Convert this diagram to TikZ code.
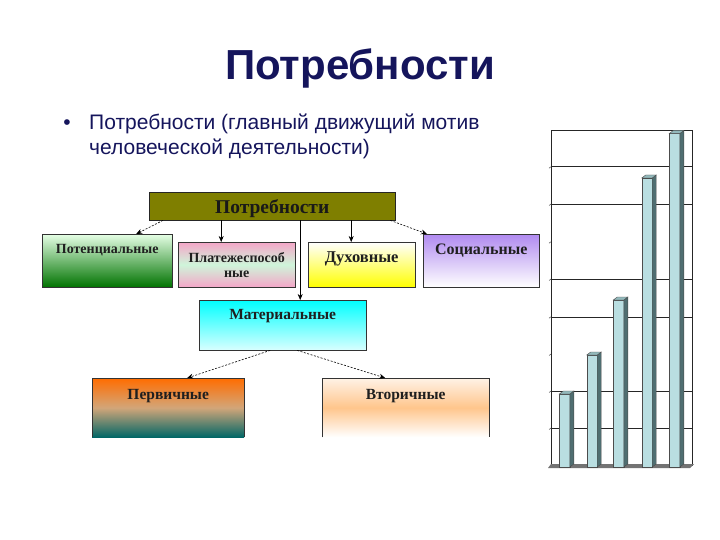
\documentclass[tikz,border=0pt]{standalone}
\usepackage{fontspec}
\setmainfont{Liberation Serif}
\newfontfamily\slidesans{Liberation Sans}
\usepackage{tikz}
\usetikzlibrary{shapes,arrows,positioning,calc,arrows.meta}
\definecolor{neednavy}{HTML}{15155C}
\definecolor{needolive}{HTML}{7F7F00}
\definecolor{needpink}{HTML}{F4A6C8}
\definecolor{needmint}{HTML}{CFF5DA}
\definecolor{needviolet}{HTML}{B08AF0}
\definecolor{barfront}{HTML}{B9DEE1}
\definecolor{barside}{HTML}{4F6E71}
\definecolor{bartop}{HTML}{93B9BC}
\newcommand{\boxfont}[1]{\fontsize{#1}{15}\selectfont\bfseries}
\tikzset{
  need top/.style={rectangle, draw=black!85, fill=needolive, anchor=north west, inner sep=0pt, font=\boxfont{19.5}, text=black!90},
  need box/.style={rectangle, draw=black!80, anchor=north west, inner sep=0pt, align=center, font=\boxfont{14}, text=black!88},
  need arrow/.style={-{Stealth[length=6pt,width=5pt]}, semithick},
  need dashed/.style={need arrow, dash pattern=on 2pt off 1.5pt}
}

\begin{document}
\begin{tikzpicture}[x=1pt, y=-1pt]
    \useasboundingbox (0,0) rectangle (720,540);

    % Title and bullet
    \node [anchor=base, font=\slidesans\bfseries\fontsize{42}{48}\selectfont, text=neednavy] (Title) at (360,80) {Потребности};
    \node [anchor=base, font=\slidesans\fontsize{21}{25}\selectfont, text=neednavy] (Dot) at (67,129.5) {•};
    \node [anchor=base west, align=left, inner sep=0pt, font=\slidesans\fontsize{21}{24.8}\selectfont, text=neednavy] (Lead) at (89,154.3) {Потребности (главный движущий мотив\\человеческой деятельности)};

    % Nodes for the first level
    \node [need top, minimum width=246pt, text height=21.5pt, text depth=6.5pt] (Need) at (149,192) {Потребности};
    \node [need box, minimum width=130pt, text height=19.5pt, text depth=33.5pt, top color=green!10!white, bottom color=green!45!black] (Pot) at (42,234) {Потенциальные};
    \node [need box, minimum width=117pt, minimum height=45pt, top color=needpink, bottom color=needpink, middle color=needmint] (Plat) at (178,242) {Платежеспособ\\ные};
    \node [need box, font=\boxfont{16.5}, minimum width=107pt, text height=20.5pt, text depth=24.5pt, top color=white, bottom color=yellow] (Dukh) at (308,242) {Духовные};
    \node [need box, font=\boxfont{16}, minimum width=116pt, text height=20.5pt, text depth=32.5pt, top color=needviolet, bottom color=white] (Soc) at (423,234) {Социальные};

    % Nodes for the second level
    \node [need box, font=\boxfont{15.5}, minimum width=167pt, text height=19.5pt, text depth=30.5pt, top color=cyan, bottom color=cyan!15!white] (Mat) at (199,300) {Материальные};
    \node [need box, font=\boxfont{15.5}, draw=none, minimum width=152pt, text height=21.5pt, text depth=37.5pt, top color=orange!85!red, bottom color=teal!80!black, middle color=brown!70!white] (Perv) at (92,378) {Первичные};
    \node [need box, font=\boxfont{15.5}, draw=none, minimum width=167pt, text height=21.5pt, text depth=37.5pt, top color=orange!10!white, bottom color=white, middle color=orange!45!white] (Vtor) at (322,378) {Вторичные};
    \draw [black!80] (Perv.south west) |- (Perv.north east) -- (Perv.south east);
    \draw [black!80] (Vtor.south west) |- (Vtor.north east) -- (Vtor.south east);

    % Connectors
    \draw [need dashed] ([xshift=14pt]Need.south west) -- ([xshift=29pt]Pot.north);
    \draw [need arrow] ([xshift=-15.5pt]Plat.north |- Need.south) -- ([xshift=-15.5pt]Plat.north);
    \draw [need arrow] ([xshift=17.5pt]Mat.north |- Need.south) -- ([xshift=17.5pt]Mat.north);
    \draw [need arrow] ([xshift=-10.5pt]Dukh.north |- Need.south) -- ([xshift=-10.5pt]Dukh.north);
    \draw [need dashed] ([xshift=-5pt]Need.south east) -- ([xshift=4pt]Soc.north west);
    \draw [need dashed] ([xshift=-12.5pt]Mat.south) -- ([xshift=19pt]Perv.north);
    \draw [need dashed] ([xshift=14.5pt]Mat.south) -- ([xshift=-20.5pt]Vtor.north);

    % Chart on the right
    \foreach \gy in {166.7, 204, 279, 316.7, 391, 428}
      \draw [black!85] (551,\gy) -- (692,\gy);
    \foreach \gy in {166.7, 204, 241.7, 279, 316.7, 354, 391, 428}
      \draw [black!85] (549,\gy+1.5) -- (551,\gy);
    \draw [black!85] (551,467) -- (551,130) -- (692,130) -- (692,466);
    \fill [black!55] (551,464) -- (694,464) -- (690,468) -- (548,468) -- cycle;
    \foreach \bx/\by in {559.3/394, 586.7/355, 613.3/300, 641.7/178, 669.3/133.5} {
      \filldraw [fill=barfront, draw=black!70] (\bx,467) rectangle (\bx+10.5,\by);
      \filldraw [fill=barside, draw=black!70] (\bx+10.5,467) -- (\bx+14.5,464) -- (\bx+14.5,\by-3) -- (\bx+10.5,\by) -- cycle;
      \filldraw [fill=bartop, draw=black!70] (\bx,\by) -- (\bx+4,\by-3) -- (\bx+14.5,\by-3) -- (\bx+10.5,\by) -- cycle;
    }
\end{tikzpicture}
\end{document}
